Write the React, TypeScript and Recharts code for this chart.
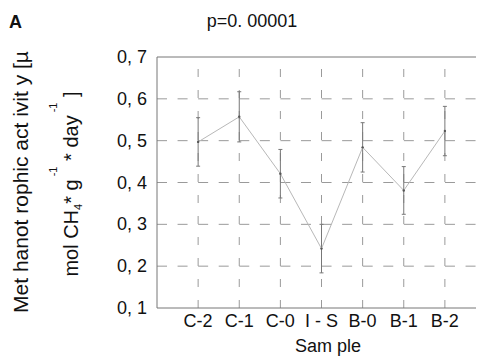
import React from "react";
import { ComposedChart, Line, XAxis, YAxis, ReferenceLine, ErrorBar } from "recharts";

const categories = ["C-2", "C-1", "C-0", "I - S", "B-0", "B-1", "B-2"];
const positions = [1, 2, 3, 4, 5, 6, 7];
const activity = [0.497, 0.557, 0.421, 0.242, 0.484, 0.381, 0.523];
const errors = [0.058, 0.06, 0.058, 0.058, 0.059, 0.057, 0.059];
const yTicks = [0.1, 0.2, 0.3, 0.4, 0.5, 0.6, 0.7];
const yTickLabels = ["0, 1", "0, 2", "0, 3", "0, 4", "0, 5", "0, 6", "0, 7"];
const gridY = [0.2, 0.3, 0.4, 0.5, 0.6];

const data = positions.map((p, i) => ({ pos: p, activity: activity[i], err: errors[i] }));

const FONT = "'Liberation Sans', Arial, Helvetica, sans-serif";

const XTick = (props: any) => {
  const { x, y, payload } = props;
  return (
    <text x={x} y={y + 19} textAnchor="middle" fontSize={18} fontFamily={FONT} fill="#111">
      {categories[payload.value - 1]}
    </text>
  );
};

const YTick = (props: any) => {
  const { x, y, payload } = props;
  const idx = yTicks.findIndex((t) => Math.abs(t - payload.value) < 1e-6);
  return (
    <text x={x - 10} y={y + 6} textAnchor="end" fontSize={18} fontFamily={FONT} fill="#111">
      {yTickLabels[idx]}
    </text>
  );
};

export default function App() {
  return (
    <div style={{ position: "relative", width: 476, height: 356, overflow: "hidden" }}>
      <ComposedChart
        width={490}
        height={356}
        data={data}
        margin={{ top: 49, right: 12, left: 0, bottom: 0 }}
      >
        <XAxis
          type="number"
          dataKey="pos"
          domain={[0, 8]}
          ticks={positions}
          allowDataOverflow
          tickLine={false}
          tickSize={0}
          tickMargin={0}
          height={56}
          axisLine={{ stroke: "#777", strokeWidth: 1 }}
          tick={<XTick />}
          interval={0}
        />
        <YAxis
          type="number"
          domain={[0.1, 0.7]}
          ticks={yTicks}
          allowDataOverflow
          tickLine={false}
          tickSize={0}
          tickMargin={0}
          width={149}
          axisLine={{ stroke: "#777", strokeWidth: 1 }}
          tick={<YTick />}
          interval={0}
        />
        {gridY.map((v) => (
          <ReferenceLine
            key={"h" + v}
            segment={[{ x: 0, y: v }, { x: 8, y: v }]}
            stroke="#9a9a9a"
            strokeWidth={1}
            strokeDasharray="10 10.57"
            ifOverflow="visible"
          />
        ))}
        {positions.map((p) => (
          <ReferenceLine
            key={"v" + p}
            segment={[{ x: p, y: 0.1 }, { x: p, y: 0.7 }]}
            stroke="#9a9a9a"
            strokeWidth={1}
            strokeDasharray="8 13"
            ifOverflow="visible"
          />
        ))}
        <ReferenceLine y={0.7} stroke="#777" strokeWidth={1} ifOverflow="visible" />
        <Line
          type="linear"
          dataKey="activity"
          stroke="#b8b8b8"
          strokeWidth={1}
          dot={{ r: 1.2, fill: "#555", stroke: "none" }}
          activeDot={false}
          isAnimationActive={false}
        >
          <ErrorBar dataKey="err" direction="y" width={2} stroke="#777" strokeWidth={1} />
        </Line>
      </ComposedChart>
      <svg
        width={476}
        height={356}
        style={{ position: "absolute", left: 0, top: 0, pointerEvents: "none" }}
        fontFamily={FONT}
      >
        <text x={1} y={20} fontSize={18} fontWeight="bold" fill="#111">A</text>
        <text x={244} y={19} fontSize={18} textAnchor="middle" fill="#111">p=0. 00001</text>
        <text x={320} y={344} fontSize={18} textAnchor="middle" fill="#111">Sam ple</text>
        <text
          transform="translate(20,174) rotate(-90)"
          fontSize={21}
          textAnchor="middle"
          fill="#111"
        >
          Met hanot rophic act ivit y [µ
        </text>
        <text
          transform="translate(70,176) rotate(-90)"
          fontSize={20}
          textAnchor="middle"
          fill="#111"
        >
          mol CH
          <tspan fontSize={11} dy={4}>4</tspan>
          <tspan dy={-4}>* g</tspan>
          <tspan fontSize={11} dy={-21}> -1</tspan>
          <tspan dy={21}> * day</tspan>
          <tspan fontSize={11} dy={-21}> -1</tspan>
          <tspan dy={21}> ]</tspan>
        </text>
      </svg>
    </div>
  );
}
